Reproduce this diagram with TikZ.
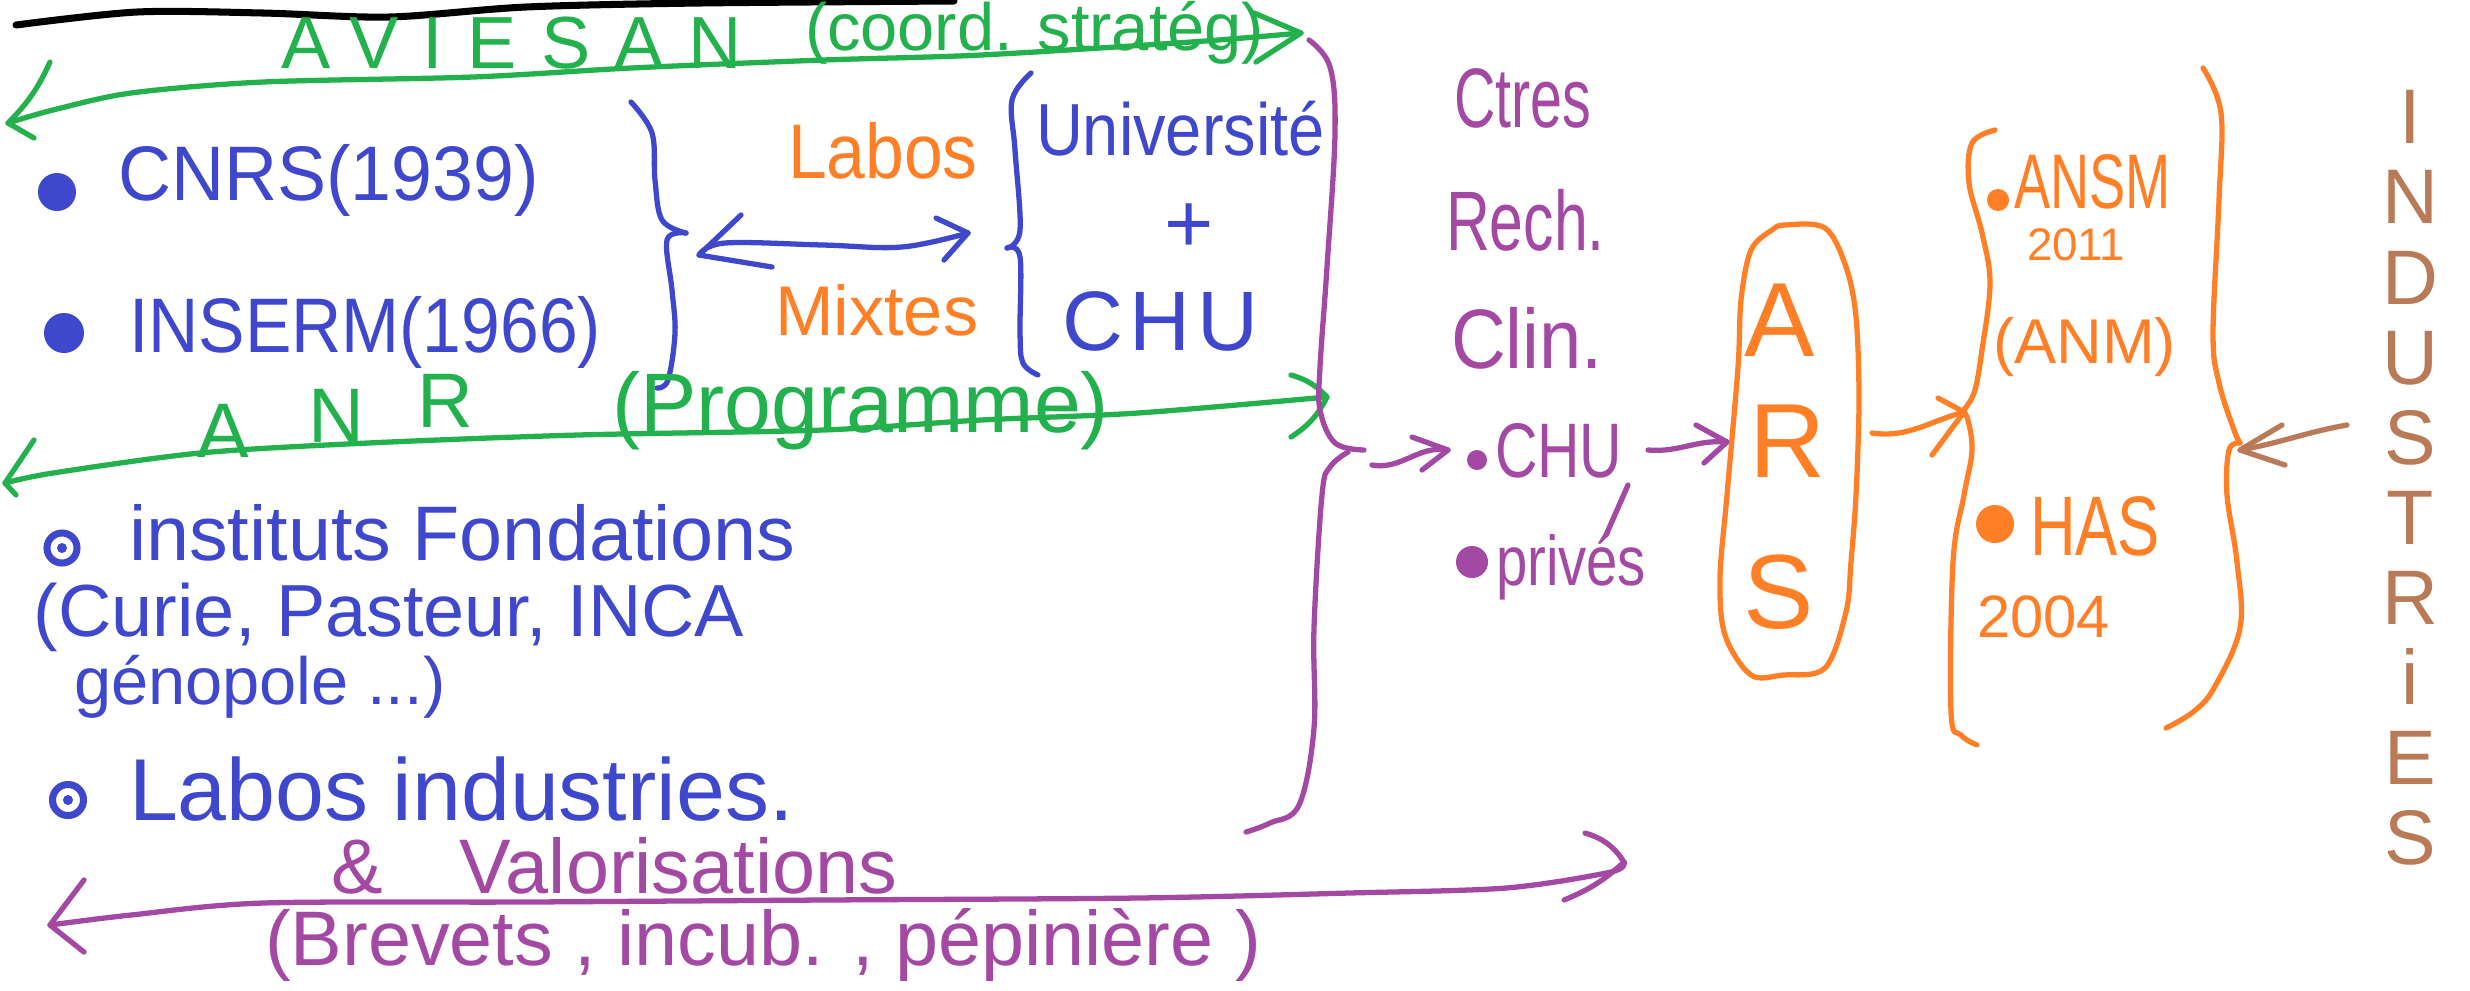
\documentclass[tikz,border=0pt]{standalone}
\usepackage{fontspec}
\setmainfont{Liberation Sans}
\usepackage{graphicx}
\usetikzlibrary{calc}
\definecolor{pgreen}{RGB}{34,177,76}
\definecolor{pblue}{RGB}{63,72,204}
\definecolor{porange}{RGB}{255,127,39}
\definecolor{ppurple}{RGB}{163,73,164}
\definecolor{pbrown}{RGB}{185,122,87}
\newcommand\hwsize[1]{\fontsize{#1}{#1}\selectfont}
\newcommand\hsq[2]{\scalebox{#1}[1]{#2}}
\begin{document}
\begin{tikzpicture}[x=0.01cm,y=-0.01cm,
  hand/.style={line width=1.5pt,line cap=round,line join=round},
  lbl/.style={inner sep=0pt,outer sep=0pt,anchor=base west},
  dotb/.style={circle,fill,inner sep=0pt,minimum size=#1},
  ring/.style={circle,draw,line width=2pt,inner sep=0pt,minimum size=#1},
  cen/.style={inner sep=0pt,outer sep=0pt}]
\fill[white] (0,0) rectangle (2470,990);
\useasboundingbox (0,0) rectangle (2470,990);

% ---------- endpoints of connectors ----------
\coordinate (avL) at (8,123);
\coordinate (avR) at (1301,33);
\coordinate (anrL) at (5,483);
\coordinate (anrR) at (1327,397);
\coordinate (valL) at (50,925);
\coordinate (valR) at (1624,862);
\coordinate (mixL) at (699,255);
\coordinate (mixR) at (968,233);
\coordinate (pTip) at (1364,450);
\coordinate (a1s) at (1372,465);
\coordinate (a1e) at (1448,450);
\coordinate (a2s) at (1648,450);
\coordinate (a2e) at (1727,442);
\coordinate (a3s) at (1872,433);
\coordinate (a3e) at (1964,412);
\coordinate (a4s) at (2347,425);
\coordinate (a4e) at (2240,450);

% ---------- black stroke at top ----------
\draw[line width=2pt,line cap=round,black] plot[smooth] coordinates {(16,25) (137,12) (263,13) (389,17) (526,7) (700,3) (954,1)};

% ---------- AVIESAN ----------
\draw[hand,pgreen] plot[smooth,tension=0.5] coordinates {(avL) (53,110) (131,93) (263,82) (473,77) (631,68) (823,60) (981,55) (1191,42) (avR)};
\draw[hand,pgreen] (50,62) to[bend left=10] (avL) -- (34,138);
\draw[hand,pgreen] (1254,13) -- (avR) -- (1256,62);
\node[lbl,pgreen] (aviesan) at (281,68) {\hwsize{21}\addfontfeature{LetterSpace=33}AVIESAN};
\node[lbl,pgreen] (coord) at (805,50) {\hwsize{19}(coord. stratég)};

% ---------- CNRS / INSERM ----------
\node[dotb=0.38cm,pblue] (bCnrs) at (57,192) {};
\node[lbl,pblue] (cnrs) at (118,200) {\hwsize{22}\hsq{0.95}{CNRS(1939)}};
\node[dotb=0.40cm,pblue] (bIns) at (64,333) {};
\node[lbl,pblue] (inserm) at (129,352) {\hwsize{22}\hsq{0.9}{INSERM(1966)}};
\draw[hand,pblue] plot[smooth,tension=0.6] coordinates {(631,102) (652,133) (655,180) (662,220) (686,233)};
\draw[hand,pblue] plot[smooth,tension=0.6] coordinates {(686,233) (667,240) (672,290) (675,333) (668,380) (657,388)};

% ---------- Labos mixtes ----------
\node[lbl,porange] (labos) at (788,178) {\hwsize{22}\hsq{0.9}{Labos}};
\node[lbl,porange] (mixtes) at (775,335) {\hwsize{20}Mixtes};
\draw[hand,pblue] plot[smooth,tension=0.6] coordinates {(mixL) (725,243) (823,245) (902,247) (mixR)};
\draw[hand,pblue] (741,215) -- (mixL) -- (772,267);
\draw[hand,pblue] (936,218) -- (mixR) -- (944,260);
\draw[hand,pblue] plot[smooth,tension=0.6] coordinates {(1031,73) (1012,100) (1015,150) (1020,230) (1007,248)};
\draw[hand,pblue] plot[smooth,tension=0.6] coordinates {(1007,248) (1020,257) (1020,333) (1023,363) (1038,375)};
\node[lbl,pblue] (univ) at (1036,155) {\hwsize{21}\hsq{0.88}{Université}};
\node[cen,pblue] (plus) at (1189,228) {\hwsize{24}+};
\node[lbl,pblue] (chuA) at (1062,350) {\hwsize{24}\addfontfeature{LetterSpace=8}CHU};

% ---------- ANR ----------
\draw[hand,pgreen] plot[smooth,tension=0.5] coordinates {(anrL) (53,473) (200,453) (368,443) (578,435) (823,430) (981,420) (1138,413) (anrR)};
\draw[hand,pgreen] (34,440) -- (anrL) -- (16,495);
\draw[hand,pgreen] (1291,375) to[bend left=15] (anrR) to[bend left=15] (1291,437);
\node[lbl,pgreen] (anr) at (197,457) {\hwsize{22}A\hspace{17pt}\raisebox{4pt}{N}\hspace{15pt}\raisebox{8.5pt}{R}};
\node[lbl,pgreen] (prog) at (612,432) {\hwsize{24}(Programme)};

% ---------- instituts / labos industries ----------
\node[ring=0.30cm,pblue] (bInst) at (62,548) {};
\node[dotb=0.10cm,pblue] at (bInst) {};
\node[lbl,pblue] (inst) at (129,560) {\hwsize{22}instituts Fondations};
\node[lbl,pblue] (curie) at (34,636) {\hwsize{21}(Curie, Pasteur, INCA};
\node[lbl,pblue] (geno) at (74,704) {\hwsize{19}génopole ...)};
\node[ring=0.31cm,pblue] (bLab) at (68,800) {};
\node[dotb=0.10cm,pblue] at (bLab) {};
\node[lbl,pblue] (labind) at (129,820) {\hwsize{25}Labos industries.};

% ---------- Valorisations ----------
\draw[hand,ppurple] plot[smooth,tension=0.5] coordinates {(valL) (131,915) (263,903) (526,902) (823,900) (1138,898) (1349,893) (1506,888) (1611,872) (valR)};
\draw[hand,ppurple] (84,880) -- (valL) -- (84,952);
\draw[hand,ppurple] (1585,833) to[bend left=20] (valR) to[bend left=10] (1564,900);
\node[lbl,ppurple] (valo) at (331,893) {\hwsize{22}\&\hspace{1em}Valorisations};
\node[lbl,ppurple] (brev) at (265,965) {\hwsize{22}(Brevets , incub. , pépinière )};

% ---------- big purple brace ----------
\draw[hand,ppurple] plot[smooth,tension=0.6] coordinates {(1309,40) (1330,67) (1335,133) (1327,267) (1320,367) (1320,410) (1335,443) (pTip)};
\draw[hand,ppurple] plot[smooth,tension=0.6] coordinates {(1348,452) (1330,467) (1322,495) (1314,628) (1314,728) (1299,805) (1270,823) (1246,832)};

% ---------- Centres Rech. Clin. ----------
\node[lbl,ppurple] (ctres) at (1454,127) {\hwsize{24}\hsq{0.68}{Ctres}};
\node[lbl,ppurple] (rech) at (1446,250) {\hwsize{24}\hsq{0.72}{Rech.}};
\node[lbl,ppurple] (clin) at (1451,368) {\hwsize{24}\hsq{0.9}{Clin.}};
\node[dotb=0.2cm,ppurple] (bChu) at (1477,460) {};
\node[lbl,ppurple] (chuB) at (1495,477) {\hwsize{22}\hsq{0.76}{CHU}};
\node[dotb=0.32cm,ppurple] (bPriv) at (1472,562) {};
\node[lbl,ppurple] (prives) at (1496,585) {\hwsize{20}\hsq{0.8}{privés}};
\draw[hand,ppurple] (1628,485) -- (1606,535);
\draw[hand,ppurple] (a1s) to[out=-10,in=170] (a1e);
\draw[hand,ppurple] (1412,437) -- (a1e) -- (1422,470);
\draw[hand,ppurple] (a2s) to[out=-5,in=175] (a2e);
\draw[hand,ppurple] (1696,425) -- (a2e) -- (1704,463);

% ---------- ARS ----------
\draw[hand,porange] plot[smooth cycle,tension=0.55] coordinates {(1785,225) (1825,228) (1846,267) (1856,317) (1859,400) (1856,495) (1851,562) (1846,612) (1825,668) (1783,675) (1751,675) (1725,635) (1720,578) (1727,495) (1738,367) (1741,300) (1751,250) (1772,230)};
\node[cen,porange] (arsA) at (1780,320) {\hwsize{30}A};
\node[cen,porange] (arsR) at (1788,441) {\hwsize{30}R};
\node[cen,porange] (arsS) at (1779,592) {\hwsize{30}S};
\draw[hand,porange] (a3s) to[out=-8,in=195] (a3e);
\draw[hand,porange] (1938,398) -- (a3e) -- (1932,455);

% ---------- ANSM / HAS ----------
\draw[hand,porange] plot[smooth,tension=0.6] coordinates {(1995,130) (1972,143) (1969,183) (1982,233) (1990,283) (1982,350) (1974,393) (1961,413)};
\draw[hand,porange] plot[smooth,tension=0.6] coordinates {(1961,413) (1967,417) (1972,450) (1964,495) (1953,562) (1951,712) (1961,735) (1977,745)};
\draw[hand,porange] plot[smooth,tension=0.6] coordinates {(2203,68) (2221,113) (2219,200) (2213,333) (2219,383) (2234,430) (2240,443)};
\draw[hand,porange] plot[smooth,tension=0.6] coordinates {(2240,443) (2229,450) (2227,495) (2237,562) (2240,628) (2214,688) (2193,712) (2166,728)};
\node[dotb=0.22cm,porange] (bAnsm) at (1998,200) {};
\node[lbl,porange] (ansm) at (2014,208) {\hwsize{22}\hsq{0.7}{ANSM}};
\node[lbl,porange] (y2011) at (2027,260) {\hwsize{13}2011};
\node[lbl,porange] (anm) at (1993,363) {\hwsize{18}(ANM)};
\node[dotb=0.38cm,porange] (bHas) at (1995,524) {};
\node[lbl,porange] (has) at (2030,555) {\hwsize{24}\hsq{0.75}{HAS}};
\node[lbl,porange] (y2004) at (1977,637) {\hwsize{17}2004};

% ---------- INDUSTRIES ----------
\draw[hand,pbrown] (a4s) to[out=190,in=10] (a4e);
\draw[hand,pbrown] (2282,425) -- (a4e) -- (2285,465);
\node[pbrown,inner sep=0pt,anchor=north,align=center,font=\fontsize{22}{22.76}\selectfont] (indus) at (2410,90) {I\\N\\D\\U\\S\\T\\R\\i\\E\\S};
\end{tikzpicture}
\end{document}
